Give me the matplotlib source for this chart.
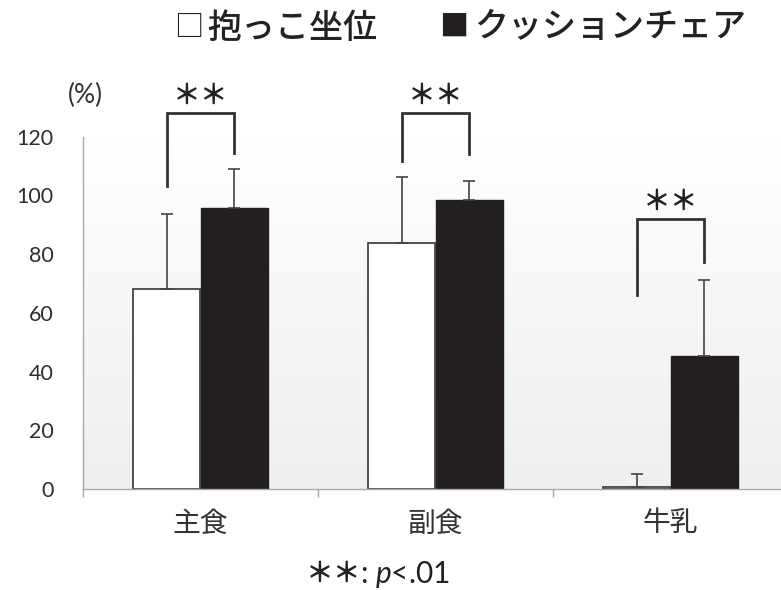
import matplotlib
matplotlib.use("Agg")
import matplotlib.pyplot as plt
import numpy as np
from matplotlib.colors import LinearSegmentedColormap

# ---- data ----
categories = ['主食', '副食', '牛乳']
hug_mean = [68.2, 83.7, 0.6]          # 抱っこ坐位
hug_sd = [25.4, 22.4, 4.6]
cushion_mean = [95.8, 98.5, 45.4]     # クッションチェア
cushion_sd = [13.0, 6.5, 25.9]
yticks = [0, 20, 40, 60, 80, 100, 120]
# significance brackets (top, left-leg bottom, right-leg bottom)
sig_top = [127.9, 127.9, 91.8]
sig_left = [103.1, 111.7, 66.2]
sig_right = [114.3, 114.0, 77.3]
sig_label = '＊＊'

CJK = ['Noto Sans CJK JP', 'DejaVu Sans']
NUM = ['Lato', 'DejaVu Sans']
plt.rcParams['mathtext.fontset'] = 'custom'
plt.rcParams['mathtext.it'] = 'Lato:italic'
plt.rcParams['mathtext.rm'] = 'Lato'

W, H = 781, 590
fig = plt.figure(figsize=(W / 100, H / 100), dpi=100)
ax = fig.add_axes([83 / W, 101 / H, 705 / W, 352.5 / H])

x = np.arange(len(categories))
bw = 0.285
off = 0.143
ax.set_xlim(-0.5, 2.5)
ax.set_ylim(0, 120)

# background gradient
grad = np.linspace(0, 1, 256).reshape(-1, 1)
cm = LinearSegmentedColormap.from_list('g', ['#eeefef', '#ffffff'])
ax.imshow(grad, extent=[-0.5, 2.5, 0, 120], origin='lower', aspect='auto',
          cmap=cm, zorder=0)

dark = '#333333'
ax.bar(x - off, hug_mean, bw, color='white', edgecolor='#444444', linewidth=1.3, zorder=2)
ax.bar(x + off, cushion_mean, bw, color='#231f20', edgecolor='#231f20', linewidth=1.0, zorder=2)
ax.errorbar(x - off, hug_mean, yerr=[np.zeros(3), hug_sd], fmt='none',
            ecolor='#444444', elinewidth=1.2, capsize=4, capthick=1.2, zorder=3)
ax.errorbar(x + off, cushion_mean, yerr=[np.zeros(3), cushion_sd], fmt='none',
            ecolor='#444444', elinewidth=1.2, capsize=4, capthick=1.2, zorder=3)

# significance brackets
for i in range(len(categories)):
    xl, xr = x[i] - off, x[i] + off
    ax.plot([xl, xl, xr, xr], [sig_left[i], sig_top[i], sig_top[i], sig_right[i]],
            color=dark, lw=2.0, clip_on=False, zorder=4, solid_joinstyle='miter')
    ax.text(x[i], sig_top[i] + 1.2, sig_label, ha='center', va='bottom',
            fontsize=20, family=CJK, fontweight='bold', color='#222222', clip_on=False)

# axes styling
for s in ['top', 'right']:
    ax.spines[s].set_visible(False)
ax.spines['left'].set_color('#a8a8a8')
ax.spines['bottom'].set_color('#a8a8a8')
ax.spines['left'].set_linewidth(1.0)
ax.spines['bottom'].set_linewidth(1.0)

ax.set_yticks(yticks)
ax.set_yticklabels([str(v) for v in yticks], family=NUM, fontsize=15.5, color='#2e2e2e')
ax.tick_params(axis='y', length=0, pad=21)

ax.set_xticks(x)
ax.set_xticklabels(categories, family=CJK, fontsize=20, color='#333333')
ax.set_xticks([-0.5, 0.5, 1.5, 2.5], minor=True)
ax.tick_params(axis='x', which='major', length=0, pad=14)
ax.tick_params(axis='x', which='minor', length=6, color='#a8a8a8', width=1.0)

# unit label
fig.text(85 / W, 1 - 95 / H, '(%)', family=NUM, fontsize=19, color='#333333',
         ha='center', va='center')

# legend (text)
ty = 1 - 28 / H
fig.text(189 / W, ty, '□', family=CJK, fontsize=21, color='#222222', ha='center', va='center')
fig.text(207 / W, ty, '抱っこ坐位', family=CJK, fontsize=24.5, fontweight='medium',
         color='#222222', ha='left', va='center')
fig.text(454 / W, ty, '■', family=CJK, fontsize=21, color='#231f20', ha='center', va='center')
fig.text(474 / W, ty, 'クッションチェア', family=CJK, fontsize=24.5, fontweight='medium',
         color='#222222', ha='left', va='center')

# footnote
fy = 1 - 574 / H
fig.text(306 / W, fy, '＊＊', family=CJK, fontsize=20, fontweight='bold', color='#222222',
         ha='left', va='center')
fig.text(360 / W, fy, r': $\mathit{p}$<.01', family=NUM, fontsize=21.5, color='#222222',
         ha='left', va='center')

fig.savefig('out.png', dpi=100)
